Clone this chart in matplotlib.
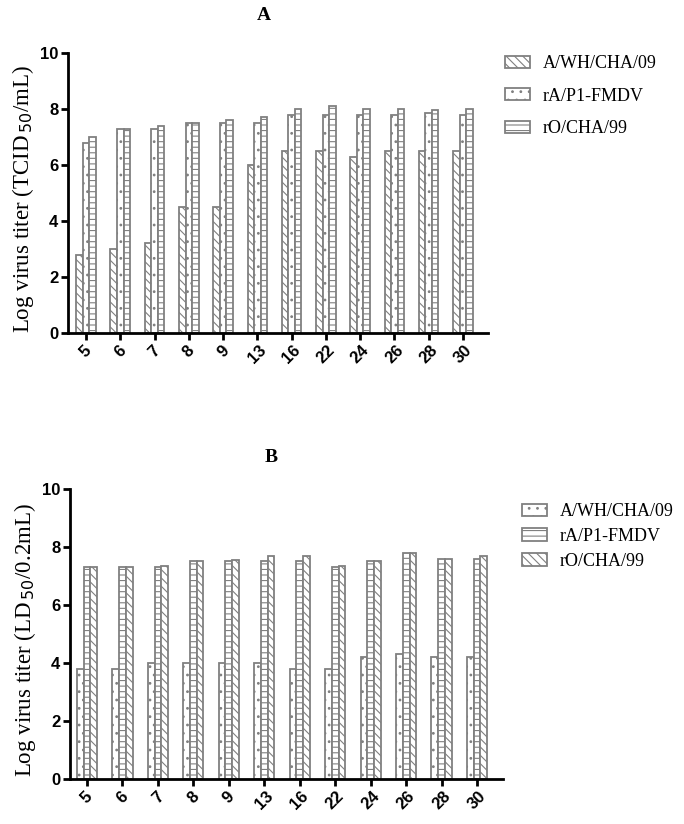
import matplotlib.pyplot as plt
import numpy as np

days = ["5", "6", "7", "8", "9", "13", "16", "22", "24", "26", "28", "30"]
strains = ["A/WH/CHA/09", "rA/P1-FMDV", "rO/CHA/99"]

# panel A: TCID50
a_wh_A = [2.8, 3.0, 3.2, 4.5, 4.5, 6.0, 6.5, 6.5, 6.3, 6.5, 6.5, 6.5]
ra_p1_A = [6.8, 7.3, 7.3, 7.5, 7.5, 7.5, 7.8, 7.8, 7.8, 7.8, 7.85, 7.8]
ro_cha_A = [7.0, 7.3, 7.4, 7.5, 7.6, 7.7, 8.0, 8.1, 8.0, 8.0, 7.95, 8.0]

# panel B: LD50
a_wh_B = [3.8, 3.8, 4.0, 4.0, 4.0, 4.0, 3.8, 3.8, 4.2, 4.3, 4.2, 4.2]
ra_p1_B = [7.3, 7.3, 7.3, 7.5, 7.5, 7.5, 7.5, 7.3, 7.5, 7.8, 7.6, 7.6]
ro_cha_B = [7.3, 7.3, 7.35, 7.5, 7.55, 7.7, 7.7, 7.35, 7.5, 7.8, 7.6, 7.7]

plt.rcParams['hatch.linewidth'] = 0.8

fig = plt.figure(figsize=(6.84, 8.24), dpi=100)
axA = fig.add_axes([0.0994, 0.5959, 0.614, 0.3398])
axB = fig.add_axes([0.1023, 0.0546, 0.633, 0.352])

serif = "Liberation Serif"
sans = "Liberation Sans"
edge = "#808080"
w = 0.19
x = np.arange(len(days))


def draw(ax, series, hatches, ylabel, xlim):
    for i, (vals, h, name) in enumerate(zip(series, hatches, strains)):
        ax.bar(x + (i - 1) * w, vals, w, facecolor="white", edgecolor=edge,
               hatch=h, linewidth=1.3, label=name)
    ax.set_ylim(0, 10)
    ax.set_xlim(*xlim)
    ax.set_yticks([0, 2, 4, 6, 8, 10])
    ax.set_xticks(x)
    ax.set_xticklabels(days, rotation=45, ha="center")
    for lab in ax.get_xticklabels() + ax.get_yticklabels():
        lab.set_fontfamily(sans)
        lab.set_fontweight("bold")
        lab.set_fontsize(12)
    for s in ["top", "right"]:
        ax.spines[s].set_visible(False)
    for s in ["left", "bottom"]:
        ax.spines[s].set_linewidth(2)
    ax.tick_params(width=2, length=5, direction="out", pad=2)
    ax.set_ylabel(ylabel, fontfamily=serif, fontsize=16.5)
    ax.yaxis.set_label_coords(-0.075, 0.48)


draw(axA, [a_wh_A, ra_p1_A, ro_cha_A], ["\\\\\\\\", "..", "---"],
     "Log virus titer (TCID$_{\\,50}$/mL)", (-0.525, 11.73))
draw(axB, [a_wh_B, ra_p1_B, ro_cha_B], ["..", "---", "\\\\\\\\"],
     "Log virus titer (LD$_{\\,50}$/0.2mL)", (-0.48, 11.73))

fig.text(264 / 684, 1 - 15 / 824, "A", fontfamily=serif, fontweight="bold",
         fontsize=14, ha="center", va="center")
fig.text(271 / 684, 1 - 458 / 824, "B", fontfamily=serif, fontweight="bold",
         fontsize=14, ha="center", va="center")

fig.legend(*axA.get_legend_handles_labels(), loc="upper left",
           bbox_to_anchor=(505 / 684, 1 - 55 / 824), frameon=False,
           prop={"family": serif, "size": 13}, handlelength=1.39,
           handleheight=0.67, handletextpad=0.72, labelspacing=0.86,
           borderpad=0, borderaxespad=0)
fig.legend(*axB.get_legend_handles_labels(), loc="upper left",
           bbox_to_anchor=(522 / 684, 1 - 503 / 824), frameon=False,
           prop={"family": serif, "size": 13}, handlelength=1.39,
           handleheight=0.67, handletextpad=0.72, labelspacing=0.44,
           borderpad=0, borderaxespad=0)

fig.savefig("out.png", dpi=100)
